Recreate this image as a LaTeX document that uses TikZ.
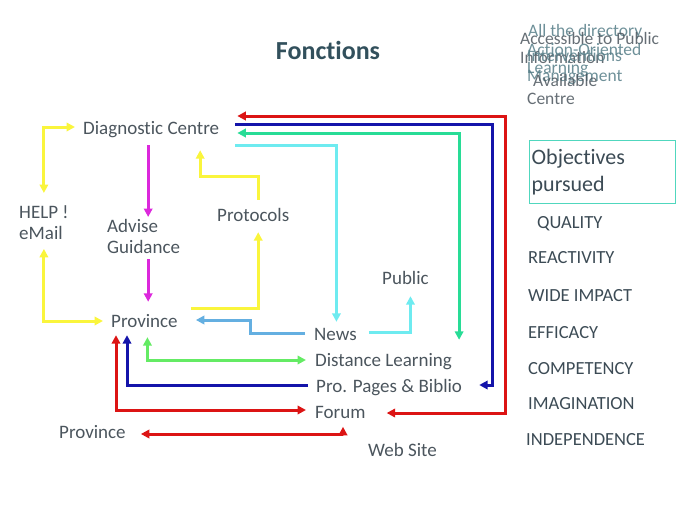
\documentclass[tikz,border=0pt]{standalone}
\usepackage{fontspec}
\setmainfont{Carlito}[Ligatures=NoCommon]
\usetikzlibrary{arrows.meta}

\definecolor{txtgray}{RGB}{75,85,93}
\definecolor{ttlcol}{RGB}{50,80,92}
\definecolor{objcol}{RGB}{60,75,85}
\definecolor{jumcol}{RGB}{85,125,135}
\definecolor{boxcol}{RGB}{80,215,190}
\definecolor{yel}{RGB}{250,245,60}
\definecolor{mag}{RGB}{220,40,220}
\definecolor{cya}{RGB}{110,235,240}
\definecolor{lbl}{RGB}{100,175,225}
\definecolor{grn}{RGB}{40,220,150}
\definecolor{lgr}{RGB}{100,235,100}
\definecolor{blu}{RGB}{20,20,170}
\definecolor{redc}{RGB}{220,20,20}

\tikzset{
	label1/.style={inner sep=0pt, text height=12pt, text depth=4pt, text=txtgray,
		font=\fontsize{19}{22}\selectfont, anchor=base west},
	label2/.style={inner sep=0pt, align=left, text=txtgray,
		font=\fontsize{19}{21.5}\selectfont, anchor=north west},
	objitem/.style={inner sep=0pt, text=objcol, font=\fontsize{18.5}{22}\selectfont, anchor=base west},
	jumble/.style={inner sep=0pt, text=jumcol, opacity=0.85, font=\fontsize{17.5}{20}\selectfont, anchor=base west},
	flow/.style={line width=3pt, line join=miter}
}

\begin{document}
\begin{tikzpicture}[x=1pt, y=-1pt, >={Triangle[length=8.5pt,width=8.5pt]}]
	\useasboundingbox (0,0) rectangle (689,517);

	% Title
	\node[inner sep=0pt, text=ttlcol, font=\fontsize{26}{30}\selectfont\bfseries] (title) at (328,50) {Fonctions};

	% Overlapping labels, top right
	\node[jumble] (jdir) at (528,36) {All the directory};
	\node[jumble, text=txtgray] (jacc) at (520,44) {Accessible to Public};
	\node[jumble] (jact) at (527,55) {Action-Oriented};
	\node[jumble, text=txtgray] (jinf) at (520,63) {Information};
	\node[jumble] (jint) at (527,61) {Interventions};
	\node[jumble] (jlea) at (527,73) {Learning};
	\node[jumble] (jman) at (527,81) {Management};
	\node[jumble, text=txtgray] (javl) at (533,86) {Available};
	\node[jumble, text=txtgray] (jcen) at (527,104) {Centre};

	% Labels of the flow chart
	\node[label1] (diag) at (83,134) {Diagnostic Centre};
	\node[label2] (help) at (19,205) {HELP !\\eMail};
	\node[label2] (advise) at (107,219) {Advise\\Guidance};
	\node[label1] (proto) at (217,221) {Protocols};
	\node[label1] (prov) at (111,327) {Province};
	\node[label1] (public) at (382,284) {Public};
	\node[label1] (news) at (314,340) {News};
	\node[label1] (dist) at (315,366) {Distance Learning};
	\node[label1] (pro) at (316,392) {Pro. Pages \& Biblio};
	\node[label1] (forum) at (315,418) {Forum};
	\node[label1] (provb) at (59,438) {Province};
	\node[label1] (web) at (368,456) {Web Site};

	% Yellow
	\draw[flow, yel, <->] ([yshift=12pt]help.north) |- ([xshift=-8pt,yshift=3pt]diag.west);
	\draw[flow, yel, <->] ([yshift=-9pt]help.south) |- ([xshift=-8pt,yshift=2pt]prov.west);
	\draw[flow, yel, ->] ([xshift=13pt,yshift=6pt]prov.north east) -| ([xshift=5pt,yshift=-7pt]proto.south);
	\draw[flow, yel, ->] ([xshift=5pt,yshift=9pt]proto.north) -- ++(0,-23) -| ([xshift=49pt,yshift=-12pt]diag.south);

	% Magenta
	\draw[flow, mag, ->] ([xshift=-3pt,yshift=-7pt]diag.south) -- ([xshift=-3pt,yshift=2pt]diag.south |- advise.north);
	\draw[flow, mag, ->] ([xshift=-3pt,yshift=-5pt]diag.south |- advise.south) -- ([xshift=-3pt,yshift=13pt]diag.south |- prov.north);

	% Cyan and light blue
	\draw[flow, cya, ->] ([xshift=16pt,yshift=-7pt]diag.south east) -| ([xshift=1pt,yshift=6pt]news.north);
	\draw[flow, cya, ->] ([xshift=12pt,yshift=4pt]news.east) -| ([xshift=5pt,yshift=-8pt]public.south);
	\draw[flow, lbl, ->] ([xshift=-9pt,yshift=3pt]news.west) -- ++(-55,0) |- ([xshift=18pt,yshift=3pt]prov.east);

	% Green
	\draw[flow, grn, <->] ([xshift=18pt,yshift=-3pt]diag.east) -| ([xshift=7pt,yshift=14pt]dist.north east);
	\draw[flow, lgr, <->] ([xshift=3pt,yshift=-6pt]prov.south) |- ([xshift=-9pt,yshift=2pt]dist.west);

	% Blue
	\draw[flow, blu, ->] ([xshift=16pt,yshift=6pt]diag.east) -- ++(257,0) |- ([xshift=17pt,yshift=3pt]pro.east);
	\draw[flow, blu, ->] ([xshift=-8pt,yshift=3pt]pro.west) -| ([xshift=16pt,yshift=-4pt]prov.south west);

	% Red
	\draw[flow, redc, <->] ([xshift=18pt,yshift=14pt]diag.east) -- ++(268,0) |- ([xshift=21pt,yshift=1pt]forum.east);
	\draw[flow, redc, <->] ([xshift=5pt,yshift=-4pt]prov.south west) |- ([xshift=-9pt,yshift=4pt]forum.west);
	\draw[flow, redc, <->] ([xshift=-25pt,yshift=17pt]web.north west) |- ([xshift=15pt]provb.east);

	% Objectives
	\node[draw=boxcol, line width=1.3pt, anchor=north west, minimum width=146pt, minimum height=63pt,
		inner xsep=2pt, inner ysep=0pt, text width=142pt, align=left, text=objcol,
		font=\fontsize{22}{27}\selectfont] (obj) at (529,140) {Objectives\\pursued};
	\node[objitem] (qual) at (537,228) {QUALITY};
	\node[objitem] (reac) at (528,263) {REACTIVITY};
	\node[objitem] (wide) at (528,301) {WIDE IMPACT};
	\node[objitem] (effi) at (528,338) {EFFICACY};
	\node[objitem] (comp) at (528,374) {COMPETENCY};
	\node[objitem] (imag) at (528,409) {IMAGINATION};
	\node[objitem] (inde) at (526,445) {INDEPENDENCE};
\end{tikzpicture}
\end{document}
